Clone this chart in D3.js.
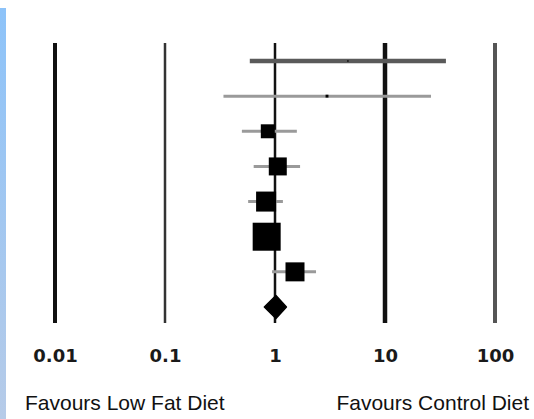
<!DOCTYPE html>
<html>
<head>
<meta charset="utf-8">
<script src="https://cdn.jsdelivr.net/npm/d3@7"></script>
<style>
  html, body { margin: 0; padding: 0; background: #fff; }
  svg { display: block; }
</style>
</head>
<body>
<div id="chart"></div>
<script>
'use strict';

// study rows (top to bottom), odds ratios
var studies = ['s1', 's2', 's3', 's4', 's5', 's6', 's7'];
var estimates = [4.6, 2.97, 0.86, 1.06, 0.83, 0.84, 1.52];
var lower = [0.59, 0.34, 0.50, 0.64, 0.57, 0.72, 0.94];
var upper = [35.8, 26.2, 1.58, 1.69, 1.18, 0.97, 2.36];
var weights = [0.1, 0.4, 9.4, 15.6, 19.3, 37.8, 17.4];

// pooled estimate
var pooled = { est: 1.02, lo: 0.80, hi: 1.27 };

var tickValues = [0.01, 0.1, 1, 10, 100];
var tickLabels = ['0.01', '0.1', '1', '10', '100'];
var sideLabels = ['Favours Low Fat Diet', 'Favours Control Diet'];

var w = 534, h = 419;

var svg = d3.select('#chart')
    .append('svg')
    .attr('width', w)
    .attr('height', h);

// blue strip on the left edge
var grad = svg.append('defs').append('linearGradient')
    .attr('id', 'strip')
    .attr('x1', 0).attr('y1', 0).attr('x2', 0).attr('y2', 1);
grad.append('stop').attr('offset', '0%').attr('stop-color', '#8dc3f9');
grad.append('stop').attr('offset', '100%').attr('stop-color', '#b6cbe8');

svg.append('rect')
    .attr('x', 0).attr('y', 8)
    .attr('width', 6).attr('height', h - 8)
    .attr('fill', 'url(#strip)');

var x = d3.scaleLog()
    .domain([0.01, 100])
    .range([55, 495]);

var rows = studies.concat(['pooled']);
var y = d3.scalePoint()
    .domain(rows)
    .range([61, 307]);

var side = d3.scaleSqrt()
    .domain([0, d3.max(weights)])
    .range([0, 28]);

// vertical reference lines
var lineStyle = {
    0.01: { w: 4, c: '#111' },
    0.1: { w: 2.5, c: '#333' },
    1: { w: 2.5, c: '#111' },
    10: { w: 4.5, c: '#111' },
    100: { w: 4, c: '#555' }
};

svg.selectAll('line.ref')
    .data(tickValues)
    .enter()
    .append('line')
    .attr('class', 'ref')
    .attr('x1', function (d) { return x(d); })
    .attr('x2', function (d) { return x(d); })
    .attr('y1', 43)
    .attr('y2', 323)
    .attr('stroke', function (d) { return lineStyle[d].c; })
    .attr('stroke-width', function (d) { return lineStyle[d].w; });

// confidence intervals
var data = studies.map(function (s, i) {
    return { id: s, est: estimates[i], lo: lower[i], hi: upper[i], wt: weights[i] };
});

svg.selectAll('line.ci')
    .data(data)
    .enter()
    .append('line')
    .attr('class', 'ci')
    .attr('x1', function (d) { return x(d.lo); })
    .attr('x2', function (d) { return x(d.hi); })
    .attr('y1', function (d) { return y(d.id); })
    .attr('y2', function (d) { return y(d.id); })
    .attr('stroke', function (d, i) { return i === 0 ? '#5a5a5a' : '#9a9a9a'; })
    .attr('stroke-width', function (d, i) { return i === 0 ? 4.5 : 3; });

svg.selectAll('rect.box')
    .data(data)
    .enter()
    .append('rect')
    .attr('class', 'box')
    .attr('x', function (d) { return x(d.est) - side(d.wt) / 2; })
    .attr('y', function (d) { return y(d.id) - side(d.wt) / 2; })
    .attr('width', function (d) { return side(d.wt); })
    .attr('height', function (d) { return side(d.wt); })
    .attr('fill', '#000');

// pooled diamond
var py = y('pooled'), hh = 11.5;
svg.append('path')
    .attr('d', 'M' + x(pooled.lo) + ',' + py +
        'L' + x(pooled.est) + ',' + (py - hh) +
        'L' + x(pooled.hi) + ',' + py +
        'L' + x(pooled.est) + ',' + (py + hh) + 'Z')
    .attr('fill', '#000')
    .attr('stroke', '#000')
    .attr('stroke-width', 1.5)
    .attr('stroke-linejoin', 'round');

// tick labels
var axis = d3.axisBottom(x)
    .tickValues(tickValues)
    .tickFormat(function (d, i) { return tickLabels[i]; })
    .tickSize(0)
    .tickPadding(0);

var gx = svg.append('g')
    .attr('transform', 'translate(0,348)')
    .call(axis);

gx.select('.domain').remove();
gx.selectAll('text')
    .attr('dy', '0.75em')
    .attr('fill', '#1a1a1a')
    .style('font-family', '"DejaVu Sans", sans-serif')
    .style('font-weight', 'bold')
    .style('font-size', '18px');

// favours labels
svg.selectAll('text.side')
    .data(sideLabels)
    .enter()
    .append('text')
    .attr('class', 'side')
    .attr('x', function (d, i) { return i === 0 ? 25 : 529; })
    .attr('y', 410)
    .attr('text-anchor', function (d, i) { return i === 0 ? 'start' : 'end'; })
    .attr('fill', '#111')
    .style('font-family', '"Liberation Sans", Arial, sans-serif')
    .style('font-size', '21px')
    .text(function (d) { return d; });
</script>
</body>
</html>
